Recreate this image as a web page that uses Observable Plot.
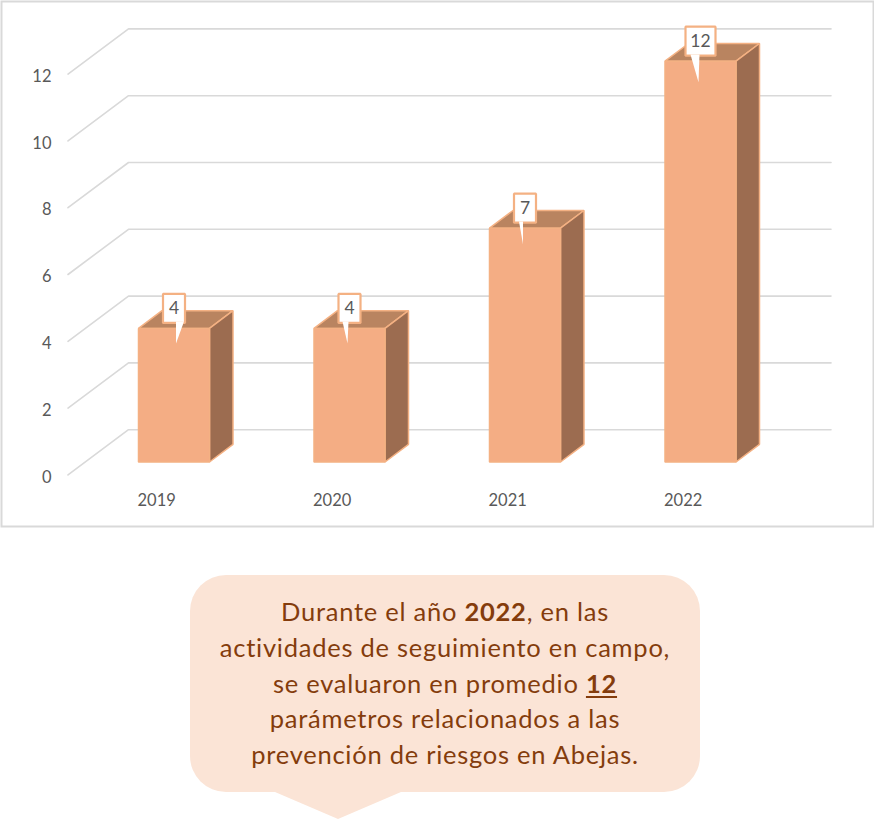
<!DOCTYPE html>
<html lang="es">
<head>
<meta charset="utf-8">
<script src="https://cdn.jsdelivr.net/npm/d3@7"></script>
<script src="https://cdn.jsdelivr.net/npm/@observablehq/plot@0.6"></script>
<style>
  html, body { margin: 0; padding: 0; background: #fff; }
  body { width: 874px; height: 819px; position: relative; overflow: hidden; font-family: Lato, "Open Sans", sans-serif; }
  #chart svg { display: block; }
  #callout { position: absolute; left: 190px; top: 575px; width: 510px; height: 217px; background: #fbe4d6; border-radius: 36px;
             color: #843c0c; font-size: 25.5px; letter-spacing: 0.75px; line-height: 35.8px; text-align: center; box-sizing: border-box; padding-top: 19px; white-space: nowrap; }
  #tail { position: absolute; left: 85px; top: 217px; width: 126px; height: 27px; background: #fbe4d6; clip-path: polygon(0 0, 100% 0, 50% 100%); }
  #callout b { font-weight: 700; }
  #callout u { font-weight: 700; text-underline-offset: 3px; }
</style>
</head>
<body>
<div id="chart"></div>
<div id="callout">
  Durante el año <b>2022</b>, en las<br>
  actividades de seguimiento en campo,<br>
  se evaluaron en promedio <u>12</u><br>
  parámetros relacionados a las<br>
  prevención de riesgos en Abejas.
  <div id="tail"></div>
</div>
<script>
const years = ["2019", "2020", "2021", "2022"];
const counts = [4, 4, 7, 12];
const yTicks = [0, 2, 4, 6, 8, 10, 12];

// Projection of the pseudo-3D plot, in scale units
const W = 874, H = 527;
const pxX = 1 / 175.5, pxY = 1 / 33.4;        // one pixel in x and y scale units
const x0 = 138, y0 = 429.2;                   // where x=0 and y=0 fall
const floorX = 60.5 * pxX, floorY = 45.2 * pxY;
const wallLeft = -10 * pxX, wallRight = 692.5 * pxX;
const barW = 71 * pxX, barBase = -32.3 * pxY;
const depthX = 23.5 * pxX, depthY = 17.7 * pxY;

// Pointer geometry of the data-label boxes, in pixels from the box centre
const tailBase = [[2, 10], [-7, -1], [-6, -2], [-10, -1]];
const tailTip = [2, -2, -2, -2];
const tailDrop = [15, 15, 16, 21];

const grid = yTicks.flatMap(t => [
  {t, x: wallLeft - floorX, y: t - floorY},
  {t, x: wallLeft, y: t},
  {t, x: wallRight, y: t}
]);

const bars = counts.map((v, i) => ({i, v, l: i, r: i + barW, b: barBase, t: barBase + v}));
const poly = f => bars.flatMap(d => f(d).map(([x, y]) => ({id: d.i, x, y})));
const frontFace = poly(d => [[d.l, d.b], [d.r, d.b], [d.r, d.t], [d.l, d.t]]);
const topFace = poly(d => [[d.l, d.t], [d.r, d.t], [d.r + depthX, d.t + depthY], [d.l + depthX, d.t + depthY]]);
const sideFace = poly(d => [[d.r, d.b], [d.r + depthX, d.b + depthY], [d.r + depthX, d.t + depthY], [d.r, d.t]]);

// Data-label callouts: a box, then a white pointer from it down into the bar
const labelBox = poly(d => {
  const cx = d.l + barW / 2;
  const half = (String(d.v).length > 1 ? 15 : 11) * pxX;
  const bot = d.t + 5.5 * pxY, top = bot + 29 * pxY;
  return [[cx - half, top], [cx + half, top], [cx + half, bot], [cx - half, bot]];
});
const labelTail = poly(d => {
  const cx = d.l + barW / 2;
  const bot = d.t + 6.8 * pxY;
  const [b0, b1] = tailBase[d.i];
  return [[cx + b1 * pxX, bot], [cx + tailTip[d.i] * pxX, d.t - tailDrop[d.i] * pxY], [cx + b0 * pxX, bot]];
});

const face = (data, fill, stroke, strokeWidth = 1.5) => Plot.line(data, {x: "x", y: "y", z: "id", fill, stroke, strokeWidth, curve: "linear-closed", strokeLinejoin: "miter"});

const plot = Plot.plot({
  width: W, height: H,
  marginTop: 0, marginRight: 0, marginBottom: 0, marginLeft: 0,
  style: {background: "#fff", fontFamily: "Lato, 'Open Sans', sans-serif", overflow: "visible"},
  x: {axis: null, range: [0, W], domain: [-x0 * pxX, (W - x0) * pxX]},
  y: {axis: null, range: [H, 0], domain: [(y0 - H) * pxY, y0 * pxY]},
  marks: [
    Plot.frame({stroke: "#d9d9d9", strokeWidth: 2, inset: 1}),
    Plot.line(grid, {x: "x", y: "y", z: "t", stroke: "#d9d9d9", strokeWidth: 1.6}),
    face(topFace, "#b98460", "#f4b183"),
    face(sideFace, "#9c6c50", "#f4b183"),
    face(frontFace, "#f4ad84", "#f4b183"),
    face(labelBox, "#ffffff", "#f4b183", 2.2),
    face(labelTail, "#ffffff", "none", 0),
    Plot.text(bars, {
      x: d => d.l + barW / 2,
      y: d => d.t + 20 * pxY,
      text: d => String(d.v),
      fontSize: 17.5, fill: "#595959"
    }),
    Plot.text(yTicks, {
      x: wallLeft - 77 * pxX,
      y: d => d - floorY,
      dy: 2.5,
      text: String,
      textAnchor: "end", fontSize: 16.5, fill: "#595959"
    }),
    Plot.text(years, {
      x: (d, i) => i - 1 * pxX,
      y: -69.3 * pxY,
      dy: 2,
      text: d => d,
      textAnchor: "start", fontSize: 16.5, fill: "#595959"
    })
  ]
});
document.getElementById("chart").appendChild(plot);
</script>
</body>
</html>
